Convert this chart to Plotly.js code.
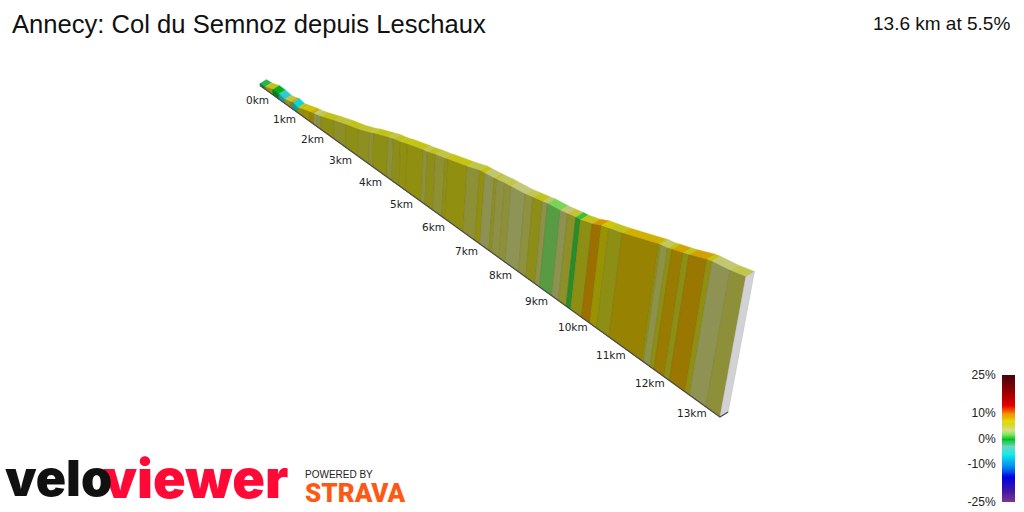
<!DOCTYPE html>
<html>
<head>
<meta charset="utf-8">
<title>Annecy: Col du Semnoz depuis Leschaux</title>
<script src="https://cdn.plot.ly/plotly-3.0.1.min.js"></script>
<style>
  html, body { margin: 0; padding: 0; background: #fff; }
</style>
</head>
<body>
<div id="grafico" style="width:1024px;height:512px"></div>
<script>
// distancia (km) y altura de la pared (m) en cada cambio de pendiente
const distancias = [0, 0.19, 0.48, 0.70, 0.92, 1.11, 1.21, 1.39, 1.57, 1.82, 1.96, 2.07, 2.21, 2.66, 3.07, 3.46, 3.84, 3.97, 4.43, 4.59, 4.82, 5.03, 5.52, 5.64, 5.89, 6.16, 6.26, 6.81, 7.16, 7.31, 7.57, 7.65, 7.86, 8.04, 8.42, 8.63, 8.885, 9.01, 9.35, 9.53, 9.74, 9.86, 10.15, 10.37, 10.55, 10.87, 11.71, 11.76, 11.91, 12.01, 12.26, 12.39, 12.77, 12.88, 13.27, 13.6];
const alturas = [12, 15, 32, 32, 26, 33, 41, 32, 43, 58, 65, 70, 78, 110, 137, 159, 187, 200, 235, 247, 258, 273, 302, 307, 324, 338, 345, 377, 402, 406, 414, 416, 425, 430, 441, 451, 463, 470, 479, 487, 497, 500, 519, 541, 552, 573, 636, 639, 645, 653, 670, 680, 712, 718, 731, 748];
// pendiente (%) de cada tramo
const pendientes = [-1, 6, 0, -5, 4.8, 8, -6, 6.3, 7.2, 7.8, 3.5, 4.6, 6, 5.3, 6, 5.5, 4.8, 6, 4.6, 5.8, 6.2, 6.3, 4.5, 5.8, 4.8, 6, 6.3, 4.7, 6.2, 3.7, 5.5, 4.2, 4.6, 3.5, 4.4, 5.8, 4, 1.8, 3.7, 5.2, 0.8, 6, 9, 7, 6, 7.8, 6, 4, 6, 8.2, 6, 8.5, 6.3, 3.6, 4.6];

const kmMarcas = [0, 1, 2, 3, 4, 5, 6, 7, 8, 9, 10, 11, 12, 13];
const kmTextos = ['0km', '1km', '2km', '3km', '4km', '5km', '6km', '7km', '8km', '9km', '10km', '11km', '12km', '13km'];

// escala de color de la barra
const escalaPendiente = [-25, -20, -15, -11, -6, -3, 0, 1.8, 3.5, 6, 7, 8, 9.5, 11, 13, 18, 25];
const escalaColor = [[125, 55, 140], [60, 20, 170], [0, 0, 225], [0, 140, 240], [20, 235, 235], [110, 215, 200], [0, 195, 30], [135, 235, 100], [215, 222, 130], [214, 215, 30], [232, 222, 5], [228, 190, 0], [240, 160, 0], [240, 100, 0], [230, 0, 0], [160, 0, 0], [70, 5, 10]];
const barraPendientes = [-25, -24, -23, -22, -21, -20, -19, -18, -17, -16, -15, -14, -13, -12, -11, -10, -9, -8, -7, -6, -5, -4, -3, -2, -1, 0, 1, 2, 3, 4, 5, 6, 7, 8, 9, 10, 11, 12, 13, 14, 15, 16, 17, 18, 19, 20, 21, 22, 23, 24, 25];
const barraMarcas = [-25, -10, 0, 10, 25];
const barraTextos = ['-25%', '-10%', '0%', '10%', '25%'];

// camara: origen, avance por km, fuga, ancho y vertical
const cam = { x0: 260, y0: 85.5, a: 26.69, b: 0.0155, pend: 0.7207, k: 6.42e-5, vx: 322, vy: 2578, ux: 6.5, uy: -4 };

function proyectar(d, z, w) {
  const h = 1 - cam.b * d;
  const q = cam.k * z;
  const den = h - q;
  const x = h * cam.x0 + cam.a * d + w * cam.ux - q * cam.vx;
  const y = h * cam.y0 + cam.a * cam.pend * d + w * cam.uy - q * cam.vy;
  return [x / den, y / den];
}

function colorDe(p) {
  let i = 0;
  while (i < escalaPendiente.length - 2 && p > escalaPendiente[i + 1]) i++;
  const t = (p - escalaPendiente[i]) / (escalaPendiente[i + 1] - escalaPendiente[i]);
  return escalaColor[i].map((c, j) => c + t * (escalaColor[i + 1][j] - c));
}

function sombra(c, f) {
  return `rgb(${c.map(v => Math.round(v * f)).join(',')})`;
}

function poligono(puntos, relleno, borde, grosor) {
  const xs = puntos.map(p => p[0]);
  const ys = puntos.map(p => p[1]);
  return {
    x: xs.concat(xs[0]),
    y: ys.concat(ys[0]),
    mode: 'lines',
    fill: 'toself',
    fillcolor: relleno,
    line: { color: borde, width: grosor },
    hoverinfo: 'skip',
    showlegend: false
  };
}

const trazas = [];

pendientes.forEach((p, i) => {
  const d1 = distancias[i], d2 = distancias[i + 1];
  const z1 = alturas[i], z2 = alturas[i + 1];
  const c = colorDe(p);
  trazas.push(poligono(
    [proyectar(d1, z1, 0), proyectar(d2, z2, 0), proyectar(d2, z2, 1), proyectar(d1, z1, 1)],
    sombra(c, 0.9), sombra(c, 0.9), 0.4
  ));
  trazas.push(poligono(
    [proyectar(d1, 0, 0), proyectar(d2, 0, 0), proyectar(d2, z2, 0), proyectar(d1, z1, 0)],
    sombra(c, 0.66), sombra(c, 0.58), 0.6
  ));
});

// cara final
const dFin = distancias[distancias.length - 1];
const zFin = alturas[alturas.length - 1];
trazas.push(poligono(
  [proyectar(dFin, 0, 0), proyectar(dFin, 0, 1), proyectar(dFin, zFin, 1), proyectar(dFin, zFin, 0)],
  '#d2d2d6', '#bdbdc2', 0.5
));

// borde inferior
const inicioBase = proyectar(0, 0, 0);
const finBase = proyectar(dFin, 0, 0);
const finFondo = proyectar(dFin, 0, 1);
trazas.push({
  x: [inicioBase[0], finBase[0], finFondo[0]],
  y: [inicioBase[1], finBase[1], finFondo[1]],
  mode: 'lines',
  line: { color: '#4a4a4a', width: 1.2 },
  hoverinfo: 'skip',
  showlegend: false
});

// barra de color
const escalaPlotly = escalaPendiente.map((p, i) => [(p + 25) / 50, `rgb(${escalaColor[i].join(',')})`]);
trazas.push({
  type: 'heatmap',
  x: [0, 1],
  y: barraPendientes,
  z: barraPendientes.map(p => [p, p]),
  zmin: -25,
  zmax: 25,
  zsmooth: 'best',
  colorscale: escalaPlotly,
  showscale: false,
  hoverinfo: 'skip',
  xaxis: 'x2',
  yaxis: 'y2'
});

const etiquetasKm = kmMarcas.map((km, i) => {
  const p = proyectar(km, 0, 0);
  return {
    x: p[0], y: p[1], xref: 'x', yref: 'y',
    text: kmTextos[i],
    showarrow: false,
    xshift: -3,
    yshift: -14,
    font: { family: 'DejaVu Sans', size: 10.5, color: '#222' }
  };
});

function textoPagina(texto, x, y, anclaX, fuente) {
  return { x: x, y: y, xref: 'paper', yref: 'paper', xanchor: anclaX, yanchor: 'middle', text: texto, showarrow: false, font: fuente };
}

const marcas = [
  textoPagina('13.6 km at 5.5%', 1011.5 / 1024, 1 - 23 / 512, 'right', { family: 'Liberation Sans', size: 19, color: '#111' }),
  textoPagina('viewer', 101 / 1024, 1 - 478 / 512, 'left', { family: 'Inter', size: 54, weight: 900, color: '#ff0a37' }),
  textoPagina('velo', 3 / 1024, 1 - 478 / 512, 'left', { family: 'Inter', size: 50, weight: 900, color: '#111' }),
  textoPagina('POWERED BY', 303 / 1024, 1 - 474 / 512, 'left', { family: 'Liberation Sans', size: 10, color: '#222' }),
  textoPagina('STRAVA', 303 / 1024, 1 - 493 / 512, 'left', { family: 'Roboto', size: 26, weight: 900, color: '#fc5a14' })
];

const layout = {
  width: 1024,
  height: 512,
  margin: { l: 0, r: 0, t: 0, b: 0 },
  paper_bgcolor: '#ffffff',
  plot_bgcolor: '#ffffff',
  title: {
    text: 'Annecy: Col du Semnoz depuis Leschaux',
    x: 12 / 1024,
    xanchor: 'left',
    y: 1 - 24 / 512,
    yanchor: 'middle',
    font: { family: 'Liberation Sans', size: 25.6, color: '#111' }
  },
  xaxis: { range: [0, 1024], visible: false, fixedrange: true },
  yaxis: { range: [512, 0], visible: false, fixedrange: true },
  xaxis2: { domain: [1002 / 1024, 1015 / 1024], anchor: 'y2', range: [0, 1], visible: false, fixedrange: true },
  yaxis2: {
    domain: [10 / 512, 137 / 512],
    anchor: 'x2',
    range: [-25, 25],
    tickmode: 'array',
    tickvals: barraMarcas,
    ticktext: barraTextos,
    ticks: 'outside',
    ticklen: 3,
    tickcolor: 'rgba(0,0,0,0)',
    showgrid: false,
    zeroline: false,
    showline: false,
    tickfont: { family: 'Liberation Sans', size: 12, color: '#222' },
    fixedrange: true
  },
  annotations: etiquetasKm.concat(marcas)
};

document.addEventListener('DOMContentLoaded', () => {
  Plotly.newPlot('grafico', trazas, layout, { displayModeBar: false, staticPlot: true });
});
</script>
</body>
</html>
